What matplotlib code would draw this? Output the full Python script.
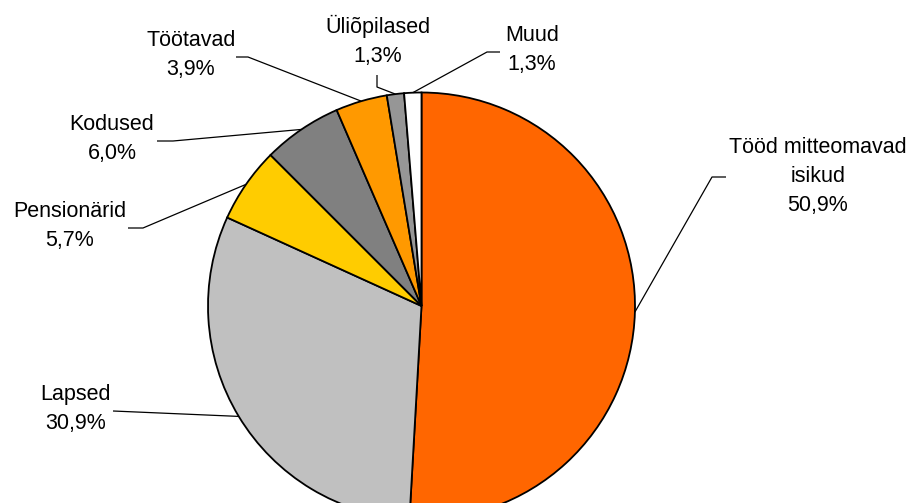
import numpy as np
import matplotlib
matplotlib.use('Agg')
import matplotlib.pyplot as plt

plt.rcParams['font.family'] = ['Liberation Sans', 'DejaVu Sans']

# data
labels = ['Tööd mitteomavad\nisikud', 'Lapsed', 'Pensionärid', 'Kodused',
          'Töötavad', 'Üliõpilased', 'Muud']
values = [50.9, 30.9, 5.7, 6.0, 3.9, 1.3, 1.3]
colors = ['#FF6600', '#C0C0C0', '#FFCC00', '#808080', '#FF9900', '#969696', '#FFFFFF']

W, H = 909, 503

# label layout in pixel coords (x, y from top): text centre, elbow points
text_pos = [(818, 176), (76, 409), (70, 226), (112, 139), (191, 55), (378, 41), (532, 50)]
elbows = [
    [(726, 177), (712, 177)],
    [(113, 411)],
    [(128, 228), (143, 228)],
    [(157, 141), (173, 141)],
    [(236, 57), (248, 57)],
    [(377, 75), (377, 87)],
    [(500, 52), (487, 52)],
]

fig = plt.figure(figsize=(W / 100, H / 100), dpi=100)
ax = fig.add_axes([0, 0, 1, 1])

cx, cy, r = 421.5, H - 306, 213.5
wedges, _ = ax.pie(values, colors=colors, startangle=90, counterclock=False,
                   center=(cx, cy), radius=r, frame=True,
                   wedgeprops=dict(edgecolor='black', linewidth=1.3))
ax.set_xlim(0, W)
ax.set_ylim(0, H)
ax.axis('off')


def flip(p):
    return (p[0], H - p[1])


for w, lab, val, tp, el in zip(wedges, labels, values, text_pos, elbows):
    ang = np.deg2rad((w.theta1 + w.theta2) / 2)
    edge = (cx + r * np.cos(ang), cy + r * np.sin(ang))
    pts = [flip(p) for p in el] + [edge]
    xs = [p[0] for p in pts]
    ys = [p[1] for p in pts]
    ax.plot(xs, ys, color='black', linewidth=0.9, solid_capstyle='butt')
    txt = lab + '\n' + ('%.1f%%' % val).replace('.', ',')
    x, y = flip(tp)
    ax.text(x, y, txt, ha='center', va='center', multialignment='center',
            fontsize=15.5, linespacing=1.5, color='black')

fig.savefig('out.png', dpi=100)
